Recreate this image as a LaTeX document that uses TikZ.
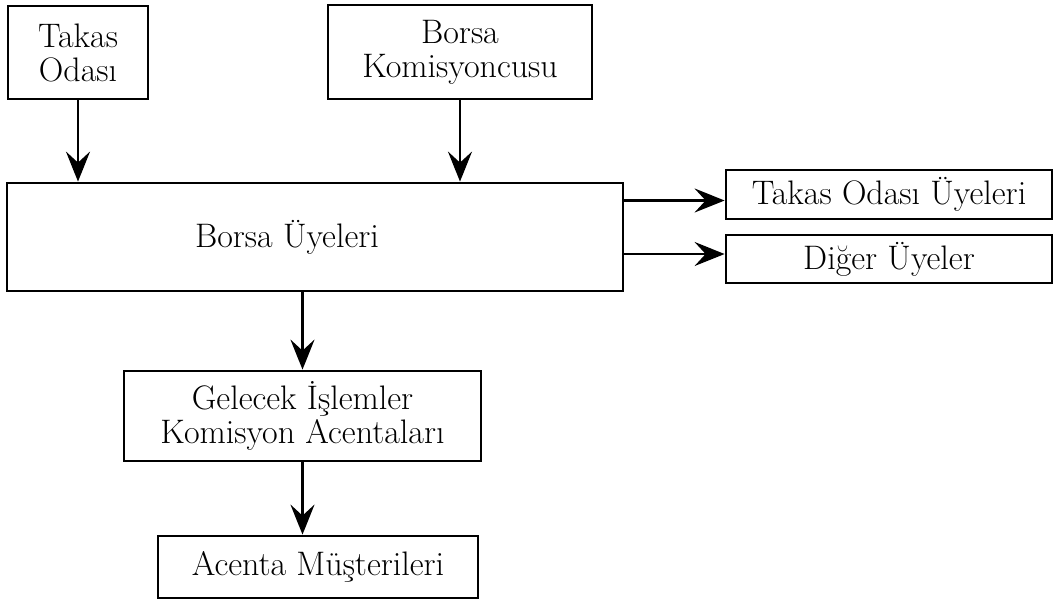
\documentclass[tikz,border=0pt]{standalone}
\usepackage{fontspec}
\usetikzlibrary{arrows.meta,positioning,calc}

\begin{document}
\begin{tikzpicture}[x=0.5pt,y=-0.5pt,
  box/.style={draw,line width=1.4pt,inner sep=0pt,align=center,font=\fontsize{17}{17}\selectfont},
  arr/.style={line width=1.3pt,-{Stealth[length=15pt,width=12pt,inset=5.5pt]}}]
  \useasboundingbox (0,0) rectangle (1061,601);
  \node[box,minimum width=70pt,minimum height=46.5pt] (takas) at (78,52.5) {Takas\\Odası};
  \node[box,minimum width=132pt,minimum height=47pt] (komis) at (460,52) {Borsa\\Komisyoncusu};
  \node[box,minimum width=308pt,minimum height=54pt] (borsa) at (315,237) {\hspace*{-28pt}Borsa Üyeleri};
  \node[box,minimum width=163pt,minimum height=24.5pt] (tou) at (889,194.5) {Takas Odası Üyeleri};
  \node[box,minimum width=163pt,minimum height=24pt] (diger) at (889,259) {Diğer Üyeler};
  \node[box,minimum width=178.5pt,minimum height=45pt] (gelecek) at (302.5,416) {Gelecek İşlemler\\Komisyon Acentaları};
  \node[box,minimum width=160pt,minimum height=31pt] (acenta) at (318,567) {Acenta Müşterileri};
  \coordinate (t1) at ([yshift=-3pt]tou.west);
  \coordinate (t2) at ([yshift=2.5pt]diger.west);
  \draw[arr] (takas.south) -- (takas.south |- borsa.north);
  \draw[arr] (komis.south) -- (komis.south |- borsa.north);
  \draw[arr] (t1 -| borsa.east) -- (t1);
  \draw[arr] (t2 -| borsa.east) -- (t2);
  \draw[arr] (gelecek.north |- borsa.south) -- (gelecek.north);
  \draw[arr] (gelecek.south) -- (gelecek.south |- acenta.north);
\end{tikzpicture}
\end{document}
